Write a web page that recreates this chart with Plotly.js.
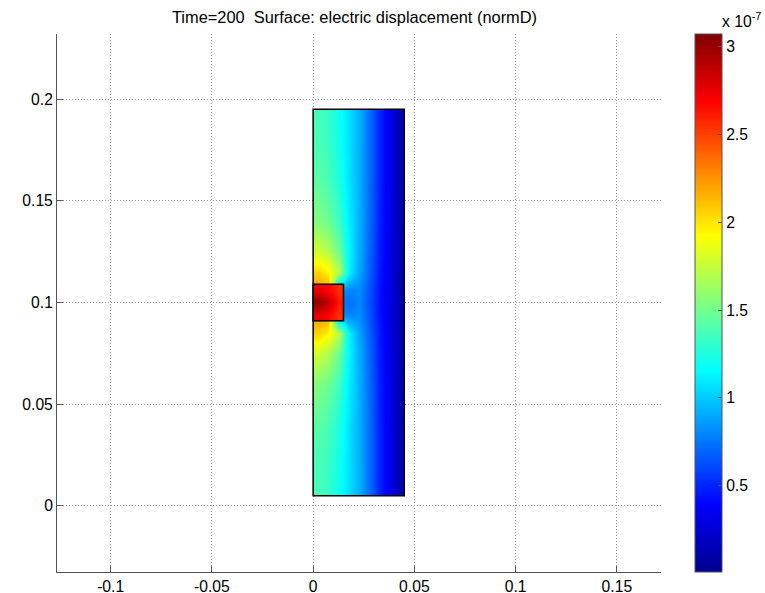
<!DOCTYPE html>
<html>
<head>
<meta charset="utf-8">
<script src="https://cdn.plot.ly/plotly-3.0.1.min.js"></script>
<style>
  html, body { margin: 0; padding: 0; background: #ffffff; }
  #chart { width: 765px; height: 593px; }
</style>
</head>
<body>
<div id="chart"></div>
<script>
// ---- Data (normD in units of 1e-7) ----
// Outer domain: cell centres (x) and (y)
const domainX = [0.0025, 0.0075, 0.0125, 0.0175, 0.0225, 0.0275, 0.0325, 0.0375, 0.0425];
const domainY = [0.01, 0.02, 0.04, 0.06, 0.075, 0.085, 0.094, 0.1, 0.106, 0.115, 0.125, 0.14, 0.16, 0.18, 0.19];
const domainD = [
  [1.37, 1.31, 1.21, 1.08, 0.92, 0.72, 0.50, 0.33, 0.14],
  [1.38, 1.32, 1.22, 1.08, 0.92, 0.72, 0.50, 0.33, 0.14],
  [1.43, 1.37, 1.25, 1.09, 0.92, 0.72, 0.50, 0.33, 0.14],
  [1.55, 1.48, 1.35, 1.12, 0.92, 0.71, 0.49, 0.33, 0.14],
  [1.78, 1.68, 1.50, 1.15, 0.91, 0.70, 0.48, 0.32, 0.14],
  [2.05, 1.95, 1.72, 1.15, 0.88, 0.68, 0.47, 0.32, 0.13],
  [2.25, 2.20, 0.85, 0.78, 0.82, 0.64, 0.45, 0.31, 0.13],
  [2.25, 2.20, 0.80, 0.72, 0.80, 0.63, 0.45, 0.31, 0.13],
  [2.25, 2.20, 0.85, 0.78, 0.82, 0.64, 0.45, 0.31, 0.13],
  [2.05, 1.95, 1.72, 1.15, 0.88, 0.68, 0.47, 0.32, 0.13],
  [1.78, 1.68, 1.50, 1.15, 0.91, 0.70, 0.48, 0.32, 0.14],
  [1.55, 1.48, 1.35, 1.12, 0.92, 0.71, 0.49, 0.33, 0.14],
  [1.43, 1.37, 1.25, 1.09, 0.92, 0.72, 0.50, 0.33, 0.14],
  [1.38, 1.32, 1.22, 1.08, 0.92, 0.72, 0.50, 0.33, 0.14],
  [1.37, 1.31, 1.21, 1.08, 0.92, 0.72, 0.50, 0.33, 0.14]
];
// Electrode: cell centres
const elecX = [0.0025, 0.0075, 0.0125];
const elecY = [0.094, 0.1, 0.106];
const elecD = [
  [2.75, 2.68, 2.55],
  [3.02, 2.88, 2.62],
  [2.75, 2.68, 2.55]
];
// Geometry outlines
const domainBox = { x: [0, 0.045], y: [0.005, 0.195] };
const elecBox = { x: [0, 0.015], y: [0.091, 0.109] };
// Colour range and ticks
const dMin = 0.01, dMax = 3.07;
const xTickVals = [-0.1, -0.05, 0, 0.05, 0.1, 0.15];
const xTickText = ['-0.1', '-0.05', '0', '0.05', '0.1', '0.15'];
const yTickVals = [0, 0.05, 0.1, 0.15, 0.2];
const yTickText = ['0', '0.05', '0.1', '0.15', '0.2'];
const cbTickVals = [0.5, 1, 1.5, 2, 2.5, 3];
const cbTickText = ['0.5', '1', '1.5', '2', '2.5', '3'];
const titleText = 'Time=200  Surface: electric displacement (normD)';

const jet = [
  [0, 'rgb(0,0,143)'],
  [0.125, 'rgb(0,0,255)'],
  [0.375, 'rgb(0,255,255)'],
  [0.625, 'rgb(255,255,0)'],
  [0.875, 'rgb(255,0,0)'],
  [1, 'rgb(128,0,0)']
];

const FONT = 'Liberation Sans, Arial, Helvetica, sans-serif';
const fs = 15.7;

const traces = [
  { type: 'heatmap', x: domainX, y: domainY, z: domainD, zsmooth: 'best',
    coloraxis: 'coloraxis', hoverinfo: 'skip' },
  { type: 'heatmap', x: elecX, y: elecY, z: elecD, zsmooth: 'best',
    coloraxis: 'coloraxis', hoverinfo: 'skip' }
];

function box(b) {
  return { type: 'rect', xref: 'x', yref: 'y', x0: b.x[0], x1: b.x[1], y0: b.y[0], y1: b.y[1],
           line: { color: '#000', width: 1.5 }, layer: 'above' };
}

const plotL = 57, plotR = 663, plotT = 34, plotB = 571.7;
const W = 765, H = 593;
const pw = plotR - plotL, ph = plotB - plotT;

const axisCommon = {
  showline: true, linecolor: '#555', linewidth: 1, mirror: false,
  ticks: 'inside', ticklen: 6, tickcolor: '#555', tickwidth: 1,
  showgrid: true, gridcolor: '#9a9a9a', griddash: '1px,2px', gridwidth: 1,
  zeroline: false, tickmode: 'array',
  tickfont: { family: FONT, size: fs, color: '#000' }
};

const layout = {
  width: W, height: H,
  margin: { l: plotL, r: W - plotR, t: plotT, b: H - plotB, pad: 0 },
  paper_bgcolor: '#fff', plot_bgcolor: '#fff',
  showlegend: false,
  title: { text: titleText, font: { family: FONT, size: 16.4, color: '#000' },
           xref: 'paper', x: (355.5 - plotL) / pw, xanchor: 'center',
           yref: 'container', y: 1 - 17.5 / H, yanchor: 'middle' },
  xaxis: Object.assign({}, axisCommon, { range: [-0.1265, 0.1718], tickvals: xTickVals, ticktext: xTickText }),
  yaxis: Object.assign({}, axisCommon, { range: [-0.0325, 0.232], tickvals: yTickVals, ticktext: yTickText }),
  coloraxis: {
    colorscale: jet, cmin: dMin, cmax: dMax,
    colorbar: {
      x: (697.3 - plotL) / pw, xanchor: 'left', xref: 'paper', xpad: 0, ypad: 0,
      y: 0.5, yanchor: 'middle', len: 1, lenmode: 'fraction',
      thickness: 27, thicknessmode: 'pixels',
      outlinecolor: '#555', outlinewidth: 1,
      ticks: 'inside', ticklen: 4, tickcolor: '#555',
      tickmode: 'array', tickvals: cbTickVals, ticktext: cbTickText,
      tickfont: { family: FONT, size: fs, color: '#000' }
    }
  },
  shapes: [box(domainBox), box(elecBox)],
  annotations: [{
    text: 'x 10<sup>-7</sup>', showarrow: false,
    xref: 'paper', yref: 'paper', x: (722 - plotL) / pw, xanchor: 'left',
    y: 1 + (plotT - 20) / ph, yanchor: 'middle',
    font: { family: FONT, size: fs, color: '#000' }
  }]
};

Plotly.newPlot('chart', traces, layout, { displayModeBar: false, staticPlot: true });
</script>
</body>
</html>
